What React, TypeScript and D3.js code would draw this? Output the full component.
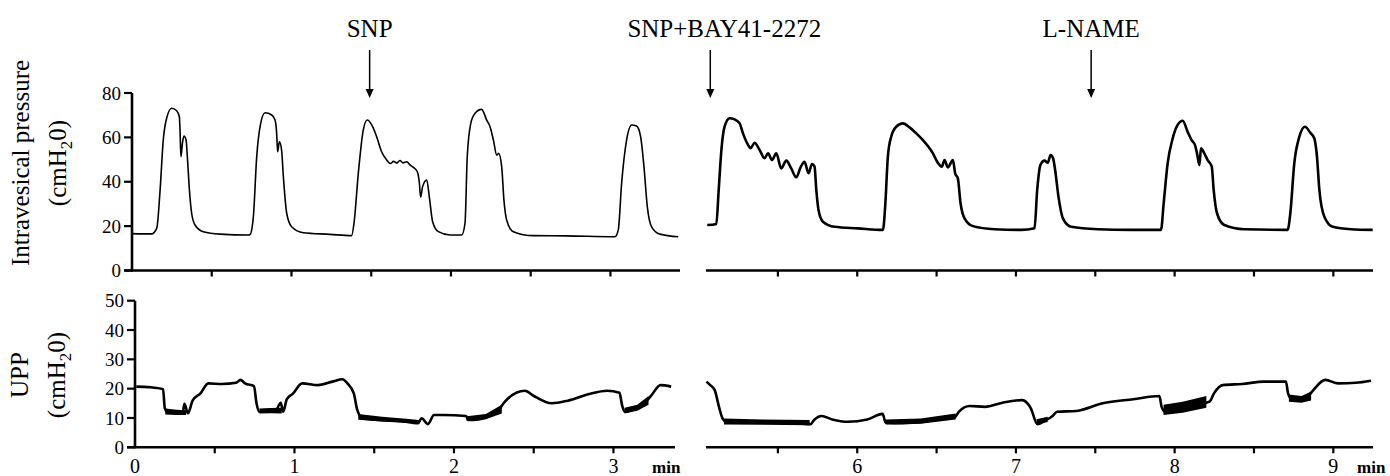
import React from 'react';
import * as d3 from 'd3';

// intravesical pressure, cmH2O vs minutes (before the break in the time axis)
const ivpBefore: [number, number][] = [
  [0.0, 16.6], [0.06, 16.5], [0.123, 16.5], [0.155, 19], [0.176, 36], [0.196, 58.8], [0.217, 68.6],
  [0.249, 73.1], [0.28, 72], [0.297, 69.3], [0.301, 63.3], [0.307, 51.3], [0.316, 57.3], [0.326, 60.6],
  [0.339, 58.8], [0.347, 51.3], [0.36, 36.3], [0.374, 25.8], [0.395, 20.5], [0.447, 17.5], [0.552, 16.4],
  [0.729, 16], [0.74, 16.2], [0.761, 24.3], [0.782, 51.3], [0.803, 64.8], [0.834, 71.1], [0.876, 70.1],
  [0.897, 67.8], [0.907, 61.8], [0.913, 53.5], [0.924, 58], [0.938, 54.3], [0.949, 42.3], [0.97, 25.8],
  [1.001, 19.7], [1.074, 17], [1.241, 16.3], [1.377, 15.7], [1.392, 21.3], [1.419, 43.8], [1.45, 63.3],
  [1.475, 67.8], [1.503, 65.6], [1.534, 60.3], [1.565, 53.5], [1.597, 49.8], [1.62, 48.2], [1.64, 49.2],
  [1.66, 48.4], [1.68, 49.6], [1.7, 48.5], [1.722, 49], [1.745, 47.5], [1.764, 46.5], [1.789, 44.5],
  [1.801, 40], [1.81, 33], [1.822, 37.8], [1.848, 40.8], [1.864, 33.3], [1.885, 22], [1.921, 17.5],
  [1.994, 16], [2.067, 16], [2.088, 21.3], [2.102, 51.3], [2.124, 66.3], [2.15, 70.8], [2.192, 72.6],
  [2.224, 67.8], [2.245, 64.8], [2.266, 58.8], [2.287, 52], [2.299, 52.8], [2.318, 46.8], [2.332, 31.8],
  [2.349, 22.8], [2.391, 17.5], [2.516, 15.7], [2.725, 15.6], [3.028, 15.2], [3.049, 18.3], [3.07, 39.3],
  [3.101, 58.8], [3.133, 65.6], [3.164, 65.1], [3.189, 60.3], [3.21, 46.8], [3.231, 28.8], [3.258, 19.7],
  [3.31, 16.4], [3.425, 15.2],
];

// intravesical pressure after the break
const ivpAfter: [number, number][] = [
  [5.055, 20.5], [5.112, 21], [5.127, 36.3], [5.144, 54.3], [5.164, 64.8], [5.196, 68.6], [5.227, 68.1],
  [5.259, 66.3], [5.28, 61.8], [5.312, 56.6], [5.328, 55.1], [5.353, 57.6], [5.385, 54.3], [5.416, 50.6],
  [5.438, 52.8], [5.463, 49.8], [5.49, 52.8], [5.521, 46], [5.553, 49.5], [5.584, 46], [5.616, 42],
  [5.643, 46.5], [5.668, 49], [5.693, 43.8], [5.715, 48], [5.731, 46.8], [5.742, 36.3], [5.756, 27.3],
  [5.784, 22], [5.857, 19.7], [6.004, 19], [6.162, 18.3], [6.176, 28.8], [6.193, 51.3], [6.214, 60.3],
  [6.246, 64.8], [6.288, 66.3], [6.33, 64.5], [6.372, 61.8], [6.414, 58.8], [6.445, 56.1], [6.477, 52.8],
  [6.504, 49], [6.533, 46.8], [6.55, 49.8], [6.571, 46.5], [6.603, 49.8], [6.617, 43.8], [6.634, 41.5],
  [6.651, 30.3], [6.676, 23.5], [6.729, 20], [6.865, 18.6], [7.033, 18.3], [7.117, 19], [7.134, 36.3],
  [7.154, 47.5], [7.18, 49.5], [7.201, 48.6], [7.218, 52], [7.234, 50.6], [7.247, 45.3], [7.268, 33.3],
  [7.296, 23.5], [7.348, 19.7], [7.516, 18.6], [7.725, 18.3], [7.914, 18.3], [7.931, 30.3], [7.956, 48.3],
  [7.988, 59.6], [8.019, 65.6], [8.051, 67.5], [8.082, 62.5], [8.107, 58.8], [8.128, 56.6], [8.141, 52.8],
  [8.156, 47.5], [8.166, 55.1], [8.187, 52.8], [8.208, 49.8], [8.234, 46.8], [8.246, 36.3], [8.267, 25.8],
  [8.313, 20.5], [8.44, 18.6], [8.712, 18.3], [8.729, 25.8], [8.754, 48.3], [8.786, 60.3], [8.821, 64.8],
  [8.855, 62.1], [8.88, 59.6], [8.897, 51.3], [8.912, 36.3], [8.943, 24.3], [8.996, 19.7], [9.111, 18.6],
  [9.248, 18.3],
];

// urethral perfusion pressure
const uppBefore: [number, number][] = [
  [0.008, 20.7], [0.097, 20.5], [0.176, 19.8], [0.187, 13.3], [0.209, 11.8], [0.254, 12.1], [0.299, 11.8],
  [0.31, 14.8], [0.332, 11.6], [0.361, 15.9], [0.411, 18.4], [0.46, 21.8], [0.545, 21.6], [0.634, 22],
  [0.661, 23], [0.69, 21.8], [0.746, 20.9], [0.762, 15], [0.78, 12.1], [0.835, 12.7], [0.88, 12.5],
  [0.914, 15.2], [0.929, 12.1], [0.952, 16.4], [0.992, 18.4], [1.048, 21.8], [1.148, 21.2], [1.238, 22.4],
  [1.301, 23.2], [1.332, 21.8], [1.372, 18.4], [1.394, 12.7], [1.428, 9.9], [1.529, 9.3], [1.663, 9],
  [1.775, 8.2], [1.797, 9.9], [1.837, 7.9], [1.875, 11], [1.931, 11], [2.076, 10.7], [2.088, 9.3],
  [2.155, 9.5], [2.222, 10.7], [2.255, 12.1], [2.289, 13.3], [2.311, 15], [2.334, 16.4], [2.445, 19.3],
  [2.501, 17.5], [2.613, 15], [2.714, 15.9], [2.848, 18.2], [2.96, 19.3], [3.038, 18.6], [3.054, 14.4],
  [3.072, 12.1], [3.139, 13.3], [3.195, 15], [3.239, 17.8], [3.295, 21.2], [3.362, 20.7],
];

const uppAfter: [number, number][] = [
  [5.05, 22.4], [5.074, 21.2], [5.102, 19.5], [5.129, 13.8], [5.151, 9.9], [5.184, 8.4], [5.266, 8.7],
  [5.404, 8.4], [5.541, 8.4], [5.706, 7.9], [5.728, 9.3], [5.775, 10.7], [5.843, 9.5], [5.94, 8.7],
  [6.063, 9.5], [6.16, 11.4], [6.179, 8.4], [6.283, 8.2], [6.421, 8.7], [6.531, 9.9], [6.613, 10.2],
  [6.64, 12.1], [6.709, 14.1], [6.805, 13.8], [6.915, 15.2], [7.039, 16.1], [7.094, 13.3], [7.135, 7.9],
  [7.19, 9.3], [7.231, 10.7], [7.259, 12.1], [7.382, 12.4], [7.547, 15], [7.74, 16.4], [7.904, 17.5],
  [7.918, 13.8], [7.946, 11.8], [8.014, 12.7], [8.124, 14.4], [8.22, 15.6], [8.248, 18.4], [8.303, 21.2],
  [8.426, 21.6], [8.564, 22.4], [8.701, 22.4], [8.715, 18.4], [8.742, 16.1], [8.825, 16.4], [8.866, 19],
  [8.949, 23], [9.031, 21.8], [9.141, 22], [9.237, 22.7],
];

// thick noisy stretches of the UPP trace: [minute, low, high]
const uppNoiseBefore: [number, number, number][][] = [
  [[0.19, 11.2, 13.2], [0.26, 11.0, 12.8], [0.32, 11.0, 12.6]],
  [[0.78, 11.5, 13.2], [0.85, 11.6, 13.4], [0.92, 11.5, 13.5]],
  [[1.4, 9.4, 11.4], [1.55, 8.8, 10.4], [1.7, 8.3, 9.7], [1.78, 8.0, 9.3]],
  [[2.08, 9.0, 10.6], [2.2, 9.6, 11.4], [2.3, 11.5, 14.5]],
  [[3.07, 11.5, 13.5], [3.15, 12.5, 14.5], [3.22, 14.5, 17.5]],
];

const uppNoiseAfter: [number, number, number][][] = [
  [[5.16, 7.8, 9.8], [5.4, 7.7, 9.5], [5.7, 7.5, 9.3]],
  [[6.18, 7.8, 9.5], [6.4, 8.0, 9.8], [6.62, 9.5, 11.5]],
  [[7.13, 7.8, 9.6], [7.2, 8.6, 10.4]],
  [[7.93, 11.0, 14.5], [8.05, 11.8, 15.5], [8.2, 13.5, 17.5]],
  [[8.72, 15.5, 18], [8.8, 15.2, 17.5], [8.86, 16, 19]],
];

const ivpTicks = [0, 20, 40, 60, 80];
const uppTicks = [0, 10, 20, 30, 40, 50];
const minuteTicksBefore = [0.5, 1, 1.5, 2, 2.5, 3];
const minuteTicksAfter = [5.5, 6, 6.5, 7, 7.5, 8, 8.5, 9];
const minuteLabelsBefore = [0, 1, 2, 3];
const minuteLabelsAfter = [6, 7, 8, 9];

// drug additions: label, minute, which half of the axis
const drugs = [
  { label: 'SNP', t: 1.49, side: 'before', dx: 0 },
  { label: 'SNP+BAY41-2272', t: 5.074, side: 'after', dx: 14 },
  { label: 'L-NAME', t: 7.474, side: 'after', dx: 0 },
];

const FONT = 'Liberation Serif';

const App = () => {
  const width = 1390;
  const height = 476;

  const yTop = d3.scaleLinear().domain([0, 80]).range([270.5, 93]);
  const yBot = d3.scaleLinear().domain([0, 50]).range([447.3, 300.7]);
  const xTopL = d3.scaleLinear().domain([0, 3.436]).range([132, 680]);
  const xBotL = d3.scaleLinear().domain([0, 3.386]).range([135, 675]);
  const xR = d3.scaleLinear().domain([5.047, 9.25]).range([706, 1373]);

  const line = (x, y) => d3.line<[number, number]>().x(d => x(d[0])).y(d => y(d[1])).curve(d3.curveMonotoneX);
  const band = (x, y) => d3.area<[number, number, number]>().x(d => x(d[0])).y0(d => y(d[1])).y1(d => y(d[2]));

  const yAxis = (x0, y, ticks) => (
    <g>
      <line x1={x0} x2={x0} y1={y(ticks[0]) + 1} y2={y(ticks[ticks.length - 1])} stroke="#000" strokeWidth={2.6} />
      {ticks.map(t => (
        <g key={t}>
          <line x1={x0 - 8} x2={x0} y1={y(t)} y2={y(t)} stroke="#000" strokeWidth={2.2} />
          <text x={x0 - 11} y={y(t)} dy="0.35em" textAnchor="end" fontSize={19}>{t}</text>
        </g>
      ))}
    </g>
  );

  const xAxis = (x, y0, ticks, labels, xStart?) => {
    const [r0, r1] = x.range();
    return (
      <g>
        <line x1={xStart ?? r0} x2={r1} y1={y0} y2={y0} stroke="#000" strokeWidth={2.6} />
        {ticks.map(t => (
          <line key={t} x1={x(t)} x2={x(t)} y1={y0} y2={y0 + 6} stroke="#000" strokeWidth={2.2} />
        ))}
        {labels.map(t => (
          <text key={'l' + t} x={x(t)} y={y0 + 26} textAnchor="middle" fontSize={20}>{t}</text>
        ))}
      </g>
    );
  };

  const unit = (x, yc, first) => (
    <g transform={`translate(${x},${yc}) rotate(-90)`}>
      <text textAnchor="middle" fontSize={25}>{first}</text>
      <text y={37} textAnchor="middle" fontSize={25}>
        (cmH<tspan fontSize={17} dy={6}>2</tspan><tspan dy={-6}>0)</tspan>
      </text>
    </g>
  );

  return (
    <svg width={width} height={height} fontFamily={FONT}
      style={{ position: 'absolute', left: 0, top: 0, background: '#fff' }}>
      {unit(29, 163, 'Intravesical pressure')}
      {unit(28, 375, 'UPP')}

      {yAxis(132, yTop, ivpTicks)}
      {xAxis(xTopL, 270.5, minuteTicksBefore, [], 124)}
      {xAxis(xR, 270.5, minuteTicksAfter, [])}

      {yAxis(135, yBot, uppTicks)}
      {xAxis(xBotL, 447.3, minuteTicksBefore, minuteLabelsBefore, 127)}
      {xAxis(xR, 447.3, minuteTicksAfter, minuteLabelsAfter)}
      <text x={652} y={473} fontSize={17} fontWeight="bold">min</text>
      <text x={1357} y={473} fontSize={17} fontWeight="bold">min</text>

      <path d={line(xTopL, yTop)(ivpBefore)} fill="none" stroke="#000" strokeWidth={1.6} strokeLinejoin="round" />
      <path d={line(xR, yTop)(ivpAfter)} fill="none" stroke="#000" strokeWidth={2.6} strokeLinejoin="round" />

      {uppNoiseBefore.map((b, i) => <path key={'nb' + i} d={band(xBotL, yBot)(b)} fill="#000" />)}
      {uppNoiseAfter.map((b, i) => <path key={'na' + i} d={band(xR, yBot)(b)} fill="#000" />)}
      <path d={line(xBotL, yBot)(uppBefore)} fill="none" stroke="#000" strokeWidth={2.6} strokeLinejoin="round" />
      <path d={line(xR, yBot)(uppAfter)} fill="none" stroke="#000" strokeWidth={2.6} strokeLinejoin="round" />

      {drugs.map(d => {
        const x = d.side === 'before' ? xTopL(d.t) : xR(d.t);
        return (
          <g key={d.label}>
            <text x={x + d.dx} y={37} textAnchor="middle" fontSize={25}>{d.label}</text>
            <line x1={x} x2={x} y1={50} y2={90} stroke="#000" strokeWidth={1.5} />
            <path d={`M${x - 4},89 L${x + 4},89 L${x},98 Z`} fill="#000" />
          </g>
        );
      })}
    </svg>
  );
};

export default App;
